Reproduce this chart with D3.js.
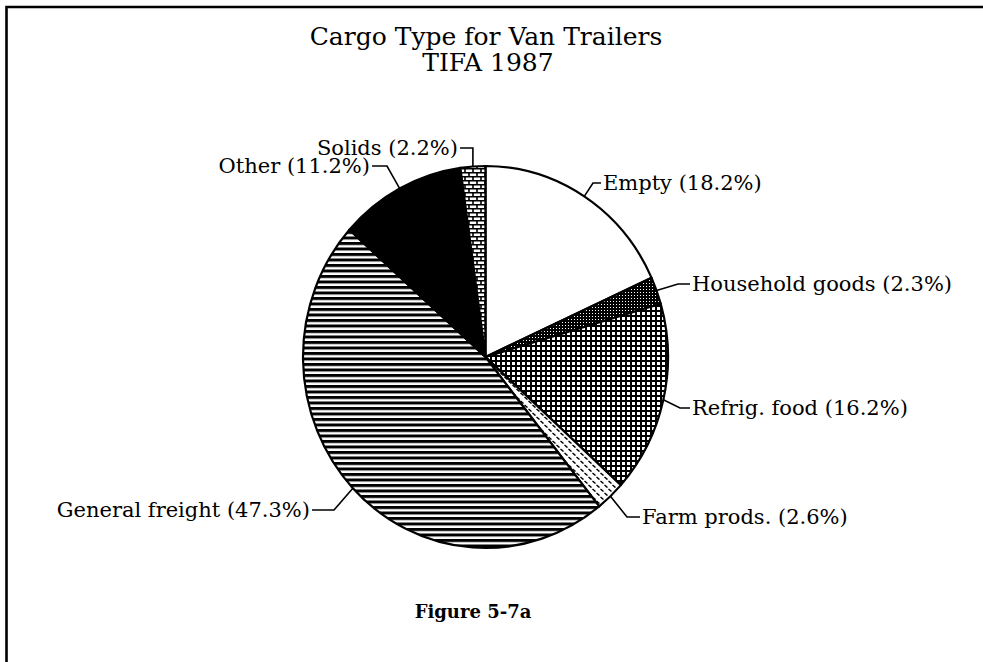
<!DOCTYPE html>
<html>
<head>
<meta charset="utf-8">
<script src="https://cdn.jsdelivr.net/npm/d3@7"></script>
<style>
  html, body { margin: 0; padding: 0; background: #fff; }
  svg { display: block; }
  text { font-family: "DejaVu Serif", "Liberation Serif", serif; fill: #000; }
</style>
</head>
<body>
<svg id="chart" width="983" height="662"></svg>
<script>
// Cargo categories, clockwise from 12 o'clock, with their shares (%)
const categories = ["Empty", "Household goods", "Refrig. food", "Farm prods.", "General freight", "Other", "Solids"];
const shares = [18.2, 2.3, 16.2, 2.6, 47.3, 11.2, 2.2];
const fills = ["white", "url(#dots)", "url(#grid)", "url(#dash)", "url(#stripes)", "black", "url(#brick)"];
const titleLines = ["Cargo Type for Van Trailers", "TIFA 1987"];
const caption = "Figure 5-7a";

const W = 983, H = 662;
const cx = 485.5, cy = 357, rx = 182.5, ry = 191;

const svg = d3.select("#chart");
const defs = svg.append("defs");

// --- fill patterns ---
const pDots = defs.append("pattern").attr("id", "dots").attr("patternUnits", "userSpaceOnUse")
  .attr("width", 3).attr("height", 3);
pDots.append("rect").attr("width", 3).attr("height", 3).attr("fill", "#000");
pDots.append("rect").attr("x", 1).attr("y", 1).attr("width", 1).attr("height", 1).attr("fill", "#fff");

const pGrid = defs.append("pattern").attr("id", "grid").attr("patternUnits", "userSpaceOnUse")
  .attr("width", 5).attr("height", 5);
pGrid.append("rect").attr("width", 5).attr("height", 5).attr("fill", "#000");
pGrid.append("rect").attr("x", 2).attr("y", 2).attr("width", 3).attr("height", 3).attr("fill", "#fff");

const pDash = defs.append("pattern").attr("id", "dash").attr("patternUnits", "userSpaceOnUse")
  .attr("width", 8).attr("height", 8);
pDash.append("rect").attr("width", 8).attr("height", 8).attr("fill", "#fff");
pDash.append("path").attr("d", "M0.5,1 L3.5,3.5 M4.5,5 L7.5,7.5").attr("stroke", "#000").attr("stroke-width", 1.5);

const pStripes = defs.append("pattern").attr("id", "stripes").attr("patternUnits", "userSpaceOnUse")
  .attr("width", 10).attr("height", 5.5);
pStripes.append("rect").attr("width", 10).attr("height", 5.5).attr("fill", "#fff");
pStripes.append("rect").attr("width", 10).attr("height", 3).attr("fill", "#000");

const pBrick = defs.append("pattern").attr("id", "brick").attr("patternUnits", "userSpaceOnUse")
  .attr("width", 8).attr("height", 8);
pBrick.append("rect").attr("width", 8).attr("height", 8).attr("fill", "#fff");
pBrick.append("path").attr("d", "M0,0.75 H8 M0,4.75 H8 M1,0 V4 M5,4 V8")
  .attr("stroke", "#000").attr("stroke-width", 1.6).attr("fill", "none");

// --- frame (top and left rule) ---
svg.append("path").attr("d", `M6.5,${H} V7 H${W}`)
  .attr("fill", "none").attr("stroke", "#000").attr("stroke-width", 2.6);

// --- title ---
svg.append("text").attr("x", 486).attr("y", 45).attr("text-anchor", "middle")
  .attr("font-size", 25).text(titleLines[0]);
svg.append("text").attr("x", 488).attr("y", 71).attr("text-anchor", "middle")
  .attr("font-size", 25).text(titleLines[1]);

// --- pie (slightly elliptical) ---
const data = categories.map((c, i) => ({ cat: c, value: shares[i], fill: fills[i] }));
const pie = d3.pie().value(d => d.value).sort(null);
const arcs = pie(data);

const pt = (a, k = 1) => [cx + rx * k * Math.sin(a), cy - ry * k * Math.cos(a)];

function slicePath(d) {
  const [x0, y0] = pt(d.startAngle), [x1, y1] = pt(d.endAngle);
  const large = (d.endAngle - d.startAngle) > Math.PI ? 1 : 0;
  return `M${cx},${cy} L${x0},${y0} A${rx},${ry} 0 ${large} 1 ${x1},${y1} Z`;
}

svg.append("g").selectAll("path").data(arcs).join("path")
  .attr("d", slicePath)
  .attr("fill", d => d.data.fill)
  .attr("stroke", "#000").attr("stroke-width", 2.2).attr("stroke-linejoin", "round");

// --- labels with leader lines ---
// leader: from the slice's mid-angle on the rim, via an elbow, to the label
const labelLayout = {
  "Empty":           { elbow: [593, 183], end: [601, 183], anchor: "start" },
  "Household goods": { elbow: [678, 284], end: [690, 284], anchor: "start" },
  "Refrig. food":    { elbow: [680, 408], end: [690, 408], anchor: "start" },
  "Farm prods.":     { elbow: [627, 517], end: [640, 517], anchor: "start" },
  "General freight": { elbow: [334, 510], end: [312, 510], anchor: "end" },
  "Other":           { elbow: [387, 166], end: [372, 166], anchor: "end" },
  "Solids":          { elbow: null, corner: true, end: [460, 148], anchor: "end" }
};

const lab = svg.append("g");
arcs.forEach(d => {
  const L = labelLayout[d.data.cat];
  const mid = (d.startAngle + d.endAngle) / 2;
  const p0 = pt(mid);
  let pts;
  if (L.corner) pts = [p0, [p0[0], L.end[1]], L.end];
  else pts = [p0, L.elbow, L.end];
  lab.append("path").attr("d", d3.line()(pts))
    .attr("fill", "none").attr("stroke", "#000").attr("stroke-width", 1.6);
  const tx = L.anchor === "start" ? L.end[0] + 2 : L.end[0] - 2;
  lab.append("text").attr("x", tx).attr("y", L.end[1]).attr("dy", "0.35em")
    .attr("text-anchor", L.anchor).attr("font-size", 21)
    .text(`${d.data.cat} (${d.data.value.toFixed(1)}%)`);
});

// --- caption ---
svg.append("text").attr("x", 473).attr("y", 618).attr("text-anchor", "middle")
  .attr("font-size", 18).attr("font-weight", "bold").text(caption);
</script>
</body>
</html>
